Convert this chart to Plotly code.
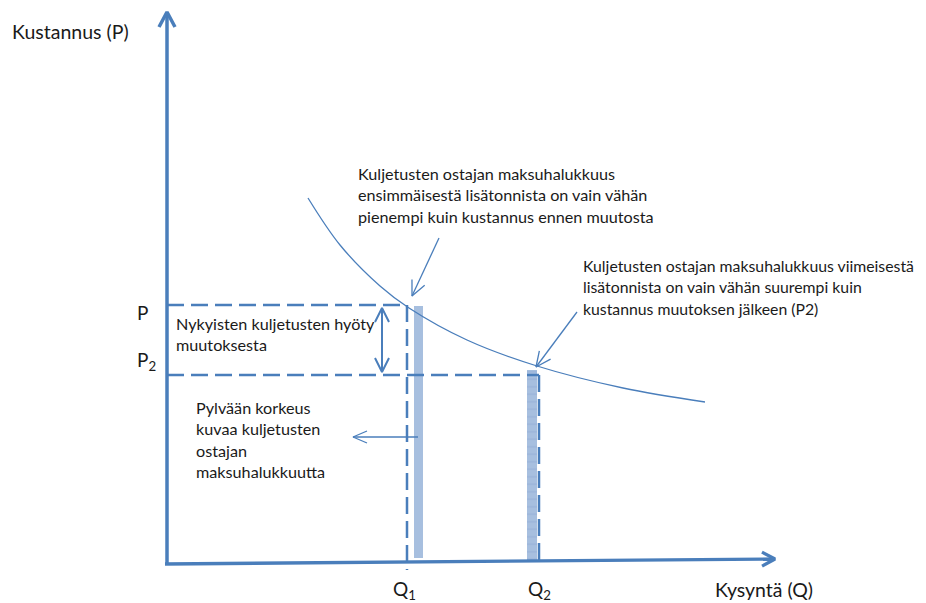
import math

import plotly.graph_objects as go

# --- data (units: diagram units, origin at the axis corner) ---
CURVE_Q = [141, 173, 213, 242, 300, 370, 456, 538]
CURVE_P = [366, 319, 278, 256, 224, 198, 176, 162]

P_LEVEL = 259
P2_LEVEL = 189
Q1 = 240
Q2 = 372

BAR_CENTER = [251.5, 365]
BAR_WIDTH = [9, 10]
BAR_BASE = [6, 2]
BAR_TOP = [258, 194]

AXIS_X_END = (608, 5)
AXIS_Y_END = (0, 552)

ANN1_LINES = [
    "Kuljetusten ostajan maksuhalukkuus",
    "ensimmäisestä lisätonnista on vain vähän",
    "pienempi kuin kustannus ennen muutosta",
]
ANN2_LINES = [
    "Kuljetusten ostajan maksuhalukkuus viimeisestä",
    "lisätonnista on vain vähän suurempi kuin",
    "kustannus muutoksen jälkeen (P2)",
]
ANN3_LINES = [
    "Pylvään korkeus",
    "kuvaa kuljetusten",
    "ostajan",
    "maksuhalukkuutta",
]
BENEFIT_LINES = ["Nykyisten kuljetusten hyöty", "muutoksesta"]

BLUE = "#4a7ebb"
BAR_FILL = "#a7bfdf"
BAR_STRIPE = "#7f9fcb"
TEXT = "#1a1a1a"
FONT = "Lato, 'Open Sans', sans-serif"


def head(x0, y0, x1, y1, length, half):
    dx, dy = x1 - x0, y1 - y0
    n = math.hypot(dx, dy)
    ux, uy = dx / n, dy / n
    bx, by = x1 - length * ux, y1 - length * uy
    return [bx - half * uy, x1, bx + half * uy], [by + half * ux, y1, by - half * ux]


def arrow(x0, y0, x1, y1, width, length=14, half=7, both=False):
    hx, hy = head(x0, y0, x1, y1, length, half)
    xs = [x0, x1, None] + hx
    ys = [y0, y1, None] + hy
    if both:
        tx, ty = head(x1, y1, x0, y0, length, half)
        xs += [None] + tx
        ys += [None] + ty
    return go.Scatter(
        x=xs, y=ys, mode="lines",
        line=dict(color=BLUE, width=width),
        hoverinfo="skip", showlegend=False,
    )


def dashed(xs, ys):
    return go.Scatter(
        x=xs, y=ys, mode="lines",
        line=dict(color=BLUE, width=2.5, dash="17px,7px"),
        hoverinfo="skip", showlegend=False,
    )


fig = go.Figure()

# bars
fig.add_trace(go.Bar(
    x=[BAR_CENTER[0]], y=[BAR_TOP[0] - BAR_BASE[0]], base=[BAR_BASE[0]], width=[BAR_WIDTH[0]],
    marker=dict(color=BAR_FILL, line=dict(width=0)), hoverinfo="skip", showlegend=False,
))
fig.add_trace(go.Bar(
    x=[BAR_CENTER[1]], y=[BAR_TOP[1] - BAR_BASE[1]], base=[BAR_BASE[1]], width=[BAR_WIDTH[1]],
    marker=dict(color=BAR_FILL, line=dict(width=0),
                pattern=dict(shape="-", fgcolor=BAR_STRIPE, bgcolor=BAR_FILL, size=7.5, solidity=0.12)),
    hoverinfo="skip", showlegend=False,
))

# dashed guide lines
fig.add_trace(dashed([0, Q1], [P_LEVEL, P_LEVEL]))
fig.add_trace(dashed([0, Q2], [P2_LEVEL, P2_LEVEL]))
fig.add_trace(dashed([Q1, Q1], [P_LEVEL, -6]))
fig.add_trace(dashed([Q2, Q2], [P2_LEVEL, 3]))

# demand curve
fig.add_trace(go.Scatter(
    x=CURVE_Q, y=CURVE_P, mode="lines",
    line=dict(color=BLUE, width=1.3, shape="spline", smoothing=1),
    hoverinfo="skip", showlegend=False,
))

# axes
fig.add_trace(arrow(0, -1, AXIS_Y_END[0], AXIS_Y_END[1], 3.5, length=15, half=8))
fig.add_trace(arrow(-2, 0, AXIS_X_END[0], AXIS_X_END[1], 3.3, length=13, half=7))

# pointer arrows
fig.add_trace(arrow(215, 256, 215, 192, 2, length=14, half=7, both=True))
fig.add_trace(arrow(272, 326, 245, 268, 1.3, length=15, half=7))
fig.add_trace(arrow(410, 252, 369, 197, 1.3, length=15, half=7))
fig.add_trace(arrow(251, 127, 186, 127, 1.3, length=14, half=6))


def text_block(lines, x, y, size=16.2, step=21.5):
    for i, line in enumerate(lines):
        fig.add_annotation(
            x=x, y=y - i * step, text=line, showarrow=False,
            xanchor="left", yanchor="middle",
            font=dict(family=FONT, size=size, color=TEXT),
        )


text_block(ANN1_LINES, 189, 391)
text_block(ANN2_LINES, 414, 299, size=15.8)
text_block(ANN3_LINES, 27, 157)
text_block(BENEFIT_LINES, 7, 241)
text_block(["Kustannus (P)"], -157, 533, size=19.5)
text_block(["Kysyntä (Q)"], 546, -25, size=19.5)
text_block(["P"], -32, 252, size=19)
text_block(["P<sub>2</sub>"], -32, 203, size=19)
text_block(["Q<sub>1</sub>"], 224, -26, size=19)
text_block(["Q<sub>2</sub>"], 359, -26, size=19)

# the page body adds an 8px margin, so the figure starts 8px in from the window corner
fig.update_layout(
    width=918, height=595,
    margin=dict(l=0, r=0, t=0, b=0),
    paper_bgcolor="white", plot_bgcolor="white",
    xaxis=dict(range=[-159, 759], visible=False, fixedrange=True),
    yaxis=dict(range=[-39, 556], visible=False, fixedrange=True),
    bargap=0, barmode="overlay",
    showlegend=False,
)

fig.write_html("out.html")
